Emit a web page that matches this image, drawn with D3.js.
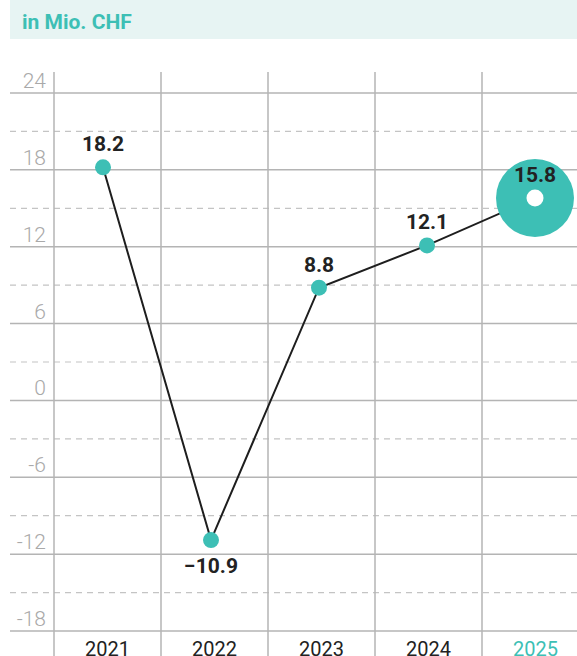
<!DOCTYPE html>
<html>
<head>
<meta charset="utf-8">
<script src="https://cdn.jsdelivr.net/npm/d3@7"></script>
<style>
  html, body { margin: 0; padding: 0; background: #fff; }
  svg { display: block; font-family: Roboto, "DejaVu Sans", sans-serif; }
</style>
</head>
<body>
<svg id="chart" width="577" height="656"></svg>
<script>
const years = ['2021', '2022', '2023', '2024', '2025']
const values = [18.2, -10.9, 8.8, 12.1, 15.8]
const yTicks = [24, 18, 12, 6, 0, -6, -12, -18]
const yHalfTicks = [21, 15, 9, 3, -3, -9, -15]
const unitLabel = 'in Mio. CHF'

const teal = '#3dbfb5'
const svg = d3.select('#chart')

// header band
svg.append('rect')
    .attr('x', 10).attr('y', 0)
    .attr('width', 567).attr('height', 39)
    .attr('fill', '#e7f4f3')
svg.append('text')
    .attr('x', 22).attr('y', 29)
    .attr('fill', teal)
    .attr('font-size', 21)
    .attr('font-weight', 700)
    .text(unitLabel)

const y = d3.scaleLinear().domain([-18, 24]).range([631, 93])
const xLine = d3.scaleBand().domain(years).range([54, 589])
const x = d3.scalePoint().domain(years).range([103, 535])

const grid = svg.append('g')

// dashed half lines
grid.selectAll('.half')
  .data(yHalfTicks)
  .join('line')
    .attr('x1', 10).attr('x2', 577)
    .attr('y1', d => y(d)).attr('y2', d => y(d))
    .attr('stroke', '#c4c4c4')
    .attr('stroke-width', 1.2)
    .attr('stroke-dasharray', '6,5')

// solid lines
grid.selectAll('.solid')
  .data(yTicks)
  .join('line')
    .attr('x1', 10).attr('x2', 577)
    .attr('y1', d => y(d)).attr('y2', d => y(d))
    .attr('stroke', '#b4b4b4')
    .attr('stroke-width', 1.5)

// vertical lines
grid.selectAll('.vert')
  .data(years)
  .join('line')
    .attr('x1', d => xLine(d)).attr('x2', d => xLine(d))
    .attr('y1', 72).attr('y2', 656)
    .attr('stroke', '#b4b4b4')
    .attr('stroke-width', 1.5)

// y labels
svg.selectAll('.ylab')
  .data(yTicks)
  .join('text')
    .attr('x', 46)
    .attr('y', d => y(d) - 5)
    .attr('text-anchor', 'end')
    .attr('fill', '#a9a9a9')
    .attr('font-size', 21)
    .attr('font-weight', 300)
    .text(d => d < 0 ? '-' + Math.abs(d) : d)

// x labels (cut by the bottom edge, as in the original)
svg.selectAll('.xlab')
  .data(years)
  .join('text')
    .attr('x', d => xLine(d) + xLine.bandwidth() / 2)
    .attr('y', 656)
    .attr('text-anchor', 'middle')
    .attr('fill', (d, i) => i === years.length - 1 ? teal : '#222')
    .attr('font-size', 20)
    .text(d => d)

const pts = years.map((d, i) => ({ year: d, v: values[i] }))

svg.append('path')
    .datum(pts)
    .attr('fill', 'none')
    .attr('stroke', '#1e1e1e')
    .attr('stroke-width', 2)
    .attr('d', d3.line().x(d => x(d.year)).y(d => y(d.v)))

const last = pts.length - 1
svg.selectAll('.dot')
  .data(pts)
  .join('circle')
    .attr('cx', d => x(d.year))
    .attr('cy', d => y(d.v))
    .attr('r', (d, i) => i === last ? 39 : 8)
    .attr('fill', teal)

svg.append('circle')
    .attr('cx', x(pts[last].year))
    .attr('cy', y(pts[last].v))
    .attr('r', 8.5)
    .attr('fill', '#fff')

svg.selectAll('.val')
  .data(pts)
  .join('text')
    .attr('x', d => x(d.year))
    .attr('y', d => d.v < 0 ? y(d.v) + 33 : y(d.v) - 16)
    .attr('text-anchor', 'middle')
    .attr('fill', '#222')
    .attr('font-size', 21)
    .attr('font-weight', 700)
    .text(d => d.v < 0 ? '\u2212' + Math.abs(d.v).toFixed(1) : d.v.toFixed(1))
</script>
</body>
</html>
